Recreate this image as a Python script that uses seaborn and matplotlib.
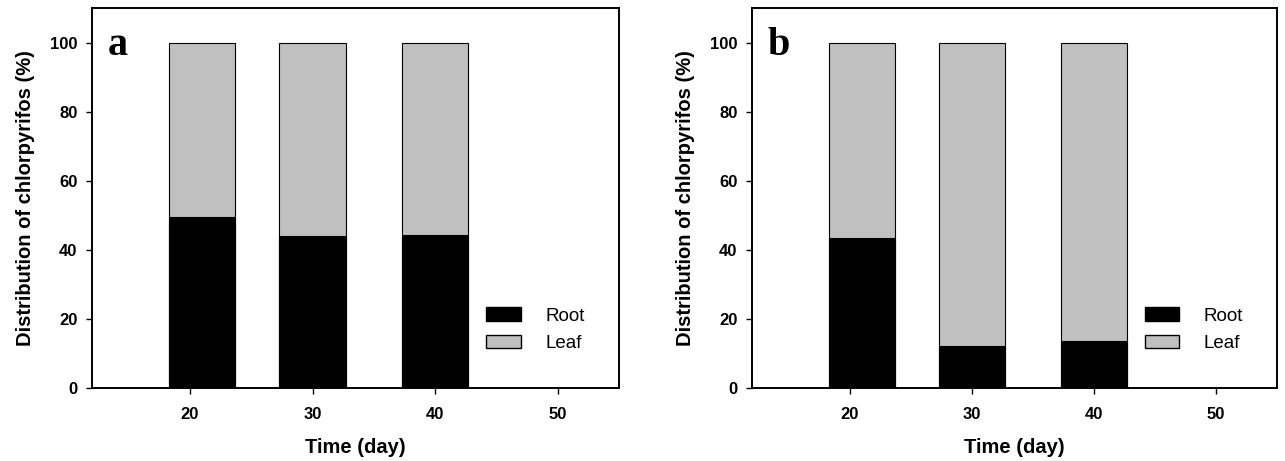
import pandas as pd
import matplotlib
matplotlib.use("Agg")
import matplotlib.pyplot as plt
import seaborn as sns
from matplotlib.patches import Patch

sns.set_theme(style="white")
plt.rcParams['font.family'] = ['Liberation Sans', 'DejaVu Sans']
plt.rcParams['text.color'] = 'black'
plt.rcParams['axes.labelcolor'] = 'black'
plt.rcParams['xtick.color'] = 'black'
plt.rcParams['ytick.color'] = 'black'

# -------------------------
# Data
# -------------------------
days = [21, 30, 40]
root_a = [49.5, 44.0, 44.3]
root_b = [43.3, 12.3, 13.6]
total = [100, 100, 100]
xticks = [20, 30, 40, 50]
yticks = [0, 20, 40, 60, 80, 100]

ROOT_COLOR = "black"
LEAF_COLOR = "#c0c0c0"


def draw_panel(ax, root, letter):
    df = pd.DataFrame({"day": days, "root": root, "total": total})
    # leaf fills the whole bar, root drawn over it from zero
    sns.barplot(data=df, x="day", y="total", native_scale=True, width=0.6,
                color=LEAF_COLOR, edgecolor="black", linewidth=0.8,
                saturation=1, ax=ax)
    sns.barplot(data=df, x="day", y="root", native_scale=True, width=0.6,
                color=ROOT_COLOR, edgecolor="black", linewidth=0.8,
                saturation=1, ax=ax)
    ax.set_xlim(12, 55)
    ax.set_ylim(0, 110)
    ax.set_xticks(xticks)
    ax.set_xticklabels([str(t) for t in xticks])
    ax.set_yticks(yticks)
    ax.tick_params(axis="both", which="both", direction="out", length=4.5,
                   width=1, bottom=True, left=True, labelsize=12)
    ax.tick_params(axis="x", pad=9)
    ax.tick_params(axis="y", pad=6)
    for lab in ax.get_xticklabels() + ax.get_yticklabels():
        lab.set_fontweight("bold")
    for s in ax.spines.values():
        s.set_color("black")
        s.set_linewidth(1.4)
    ax.set_xlabel("Time (day)", fontsize=14.5, fontweight="bold", labelpad=12)
    ax.set_ylabel("Distribution of chlorpyrifos (%)", fontsize=14.5,
                  fontweight="bold", labelpad=11)
    ax.text(0.03, 0.876, letter, transform=ax.transAxes, fontsize=29,
            fontweight="bold", family=["Liberation Serif", "DejaVu Serif"],
            va="baseline", ha="left")
    handles = [Patch(facecolor=ROOT_COLOR, edgecolor="black", label="Root"),
               Patch(facecolor=LEAF_COLOR, edgecolor="black", label="Leaf")]
    ax.legend(handles=handles, loc="upper left", bbox_to_anchor=(0.748, 0.212),
              frameon=False, fontsize=13.5, handlelength=1.85, handleheight=0.7,
              handletextpad=1.3, labelspacing=0.55, borderpad=0,
              borderaxespad=0)


fig = plt.figure(figsize=(12.85, 4.61), dpi=100)
ax_a = fig.add_axes([0.0716, 0.1584, 0.410, 0.824])
ax_b = fig.add_axes([0.5852, 0.1584, 0.4086, 0.824])
draw_panel(ax_a, root_a, "a")
draw_panel(ax_b, root_b, "b")

fig.savefig("out.png", dpi=100, facecolor="white")
